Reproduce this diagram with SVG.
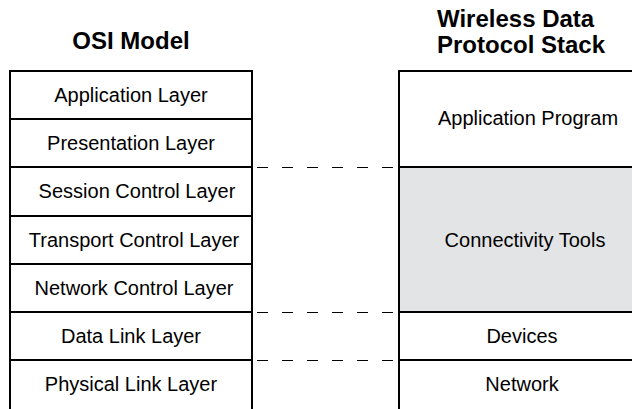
<svg xmlns="http://www.w3.org/2000/svg" width="632" height="409" viewBox="0 0 632 409">
<style>
text{font-family:"Liberation Sans",Arial,sans-serif;fill:#000}
.t{font-size:24px;font-weight:bold}
.l{font-size:20px;text-anchor:middle}
.box{fill:#fff;stroke:#000;stroke-width:2}
.sep{stroke:#000;stroke-width:2}
.dash{stroke:#000;stroke-width:1.2;stroke-dasharray:11 14;fill:none}
</style>
<rect width="632" height="409" fill="#fff"/>
<text class="t" x="131" y="49" text-anchor="middle">OSI Model</text>
<text class="t" x="437" y="27">Wireless Data</text>
<text class="t" x="437" y="53">Protocol Stack</text>
<g id="osi">
<rect class="box" x="10" y="71" width="242" height="339"/>
<line class="sep" x1="10" y1="119" x2="252" y2="119"/>
<line class="sep" x1="10" y1="167" x2="252" y2="167"/>
<line class="sep" x1="10" y1="216" x2="252" y2="216"/>
<line class="sep" x1="10" y1="264" x2="252" y2="264"/>
<line class="sep" x1="10" y1="312" x2="252" y2="312"/>
<line class="sep" x1="10" y1="360" x2="252" y2="360"/>
<text class="l" x="131" y="102">Application Layer</text>
<text class="l" x="131" y="150">Presentation Layer</text>
<text class="l" x="137" y="198">Session Control Layer</text>
<text class="l" x="134" y="247">Transport Control Layer</text>
<text class="l" x="134" y="295">Network Control Layer</text>
<text class="l" x="131" y="343">Data Link Layer</text>
<text class="l" x="131" y="391">Physical Link Layer</text>
</g>
<g id="wireless">
<rect class="box" x="399" y="71" width="250" height="339"/>
<rect x="400" y="168" width="240" height="143" fill="#e3e4e6"/>
<line class="sep" x1="399" y1="167" x2="640" y2="167"/>
<line class="sep" x1="399" y1="312" x2="640" y2="312"/>
<line class="sep" x1="399" y1="360" x2="640" y2="360"/>
<text class="l" x="528" y="125">Application Program</text>
<text class="l" x="525" y="247">Connectivity Tools</text>
<text class="l" x="522" y="343">Devices</text>
<text class="l" x="522" y="391">Network</text>
</g>
<g id="connectors">
<line class="dash" x1="257" y1="167.5" x2="398" y2="167.5"/>
<line class="dash" x1="257" y1="312.5" x2="398" y2="312.5"/>
<line class="dash" x1="257" y1="360.5" x2="398" y2="360.5"/>
</g>
</svg>
